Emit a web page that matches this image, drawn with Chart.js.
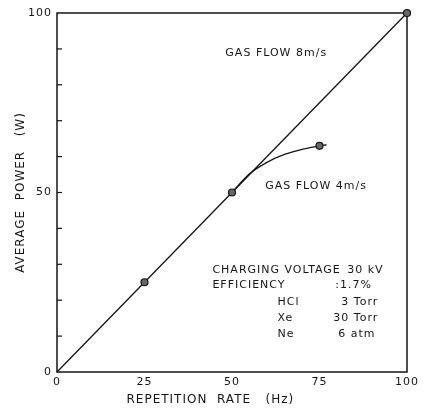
<!DOCTYPE html>
<html><head><meta charset="utf-8">
<script src="https://cdn.jsdelivr.net/npm/chart.js@4.4.0/dist/chart.umd.min.js"></script>
<style>html,body{margin:0;padding:0;background:#fff}</style>
</head><body>
<canvas id="c" width="427" height="410"></canvas>
<script>
// values
const xTicks = [0, 25, 50, 75, 100];
const yLabelled = [0, 50, 100];
const rate8 = [0, 25, 50, 100];
const power8 = [0, 25, 50, 100];
const marked8 = [25, 50, 100];
const rate4 = [50, 55, 60, 65, 70, 75, 77];
const power4 = [50, 55.2, 58.4, 60.6, 62, 63, 63.3];
const marked4 = [75];
const notes = [
  { text: 'GAS FLOW 8m/s', x: 48.1, y: 88.9 },
  { text: 'GAS FLOW 4m/s', x: 59.5, y: 51.8 },
  { text: 'CHARGING VOLTAGE', x: 44.4, y: 28.4 },
  { text: '30 kV', x: 82.9, y: 28.4 },
  { text: 'EFFICIENCY', x: 44.4, y: 24.2 },
  { text: ':1.7%', x: 79.5, y: 24.2 },
  { text: 'HCl', x: 63, y: 19.5 },
  { text: '3 Torr', x: 91.8, y: 19.5, align: 'right' },
  { text: 'Xe', x: 63, y: 15.0 },
  { text: '30 Torr', x: 91.8, y: 15.0, align: 'right' },
  { text: 'Ne', x: 63, y: 10.6 },
  { text: '6 atm', x: 91.0, y: 10.6, align: 'right' }
];

const ink = '#151515';
const font = '"DejaVu Sans", sans-serif';
const pad = n => '\u00a0'.repeat(n);

function toPoints(xs, ys) { return xs.map((v, i) => ({ x: v, y: ys[i] })); }

const framePlugin = {
  id: 'frame',
  beforeDraw(chart) {
    // wide lettering like the stencilled original
    chart.ctx.letterSpacing = '1px';
  },
  beforeDatasetsDraw(chart) {
    const { ctx, chartArea: a, scales: { y } } = chart;
    ctx.save();
    ctx.strokeStyle = ink;
    ctx.lineWidth = 1.5;
    ctx.strokeRect(a.left, a.top, a.right - a.left, a.bottom - a.top);
    ctx.lineWidth = 1.2;
    for (let v = 10; v < 100; v += 10) {
      const py = y.getPixelForValue(v);
      ctx.beginPath();
      ctx.moveTo(a.left, py);
      ctx.lineTo(a.left + 5, py);
      ctx.stroke();
    }
    ctx.restore();
  }
};

const notesPlugin = {
  id: 'notes',
  afterDraw(chart) {
    const { ctx, scales: { x, y } } = chart;
    ctx.save();
    ctx.fillStyle = ink;
    ctx.font = '11px ' + font;
    ctx.letterSpacing = '1px';
    ctx.textBaseline = 'middle';
    notes.forEach(n => {
      ctx.textAlign = n.align || 'left';
      ctx.fillText(n.text, x.getPixelForValue(n.x), y.getPixelForValue(n.y));
    });
    ctx.restore();
  }
};

new Chart(document.getElementById('c'), {
  type: 'scatter',
  data: {
    datasets: [
      {
        data: toPoints(rate8, power8),
        showLine: true,
        borderColor: ink,
        borderWidth: 1.3,
        pointRadius: rate8.map(v => marked8.includes(v) ? 3.5 : 0),
        pointBackgroundColor: '#666',
        pointBorderColor: ink,
        pointBorderWidth: 1.2,
        clip: false
      },
      {
        data: toPoints(rate4, power4),
        showLine: true,
        cubicInterpolationMode: 'monotone',
        borderColor: ink,
        borderWidth: 1.3,
        pointRadius: rate4.map(v => marked4.includes(v) ? 3.5 : 0),
        pointBackgroundColor: '#666',
        pointBorderColor: ink,
        pointBorderWidth: 1.2,
        clip: false
      }
    ]
  },
  options: {
    responsive: false,
    animation: false,
    devicePixelRatio: 1,
    layout: { padding: { top: 13, right: 20, left: 0, bottom: 0 } },
    plugins: { legend: { display: false }, tooltip: { enabled: false } },
    scales: {
      x: {
        type: 'linear', min: 0, max: 100,
        afterBuildTicks: s => { s.ticks = xTicks.map(v => ({ value: v })); },
        afterFit: s => { s.height = 38; },
        grid: { display: false, drawTicks: false },
        border: { display: false },
        ticks: { color: ink, font: { family: font, size: 11 }, padding: 4 },
        title: { display: true, text: 'REPETITION  RATE   (Hz)' + pad(9), color: ink, font: { family: font, size: 12 }, padding: { top: 0, bottom: 3 } }
      },
      y: {
        type: 'linear', min: 0, max: 100,
        afterBuildTicks: s => { s.ticks = yLabelled.map(v => ({ value: v })); },
        afterFit: s => { s.width = 57; },
        grid: { display: false, drawTicks: false },
        border: { display: false },
        ticks: { color: ink, font: { family: font, size: 11 }, padding: 5 },
        title: { display: true, text: 'AVERAGE  POWER   (W)', color: ink, font: { family: font, size: 12 }, padding: { top: 14, bottom: 0 } }
      }
    }
  },
  plugins: [framePlugin, notesPlugin]
});
</script>
</body></html>
